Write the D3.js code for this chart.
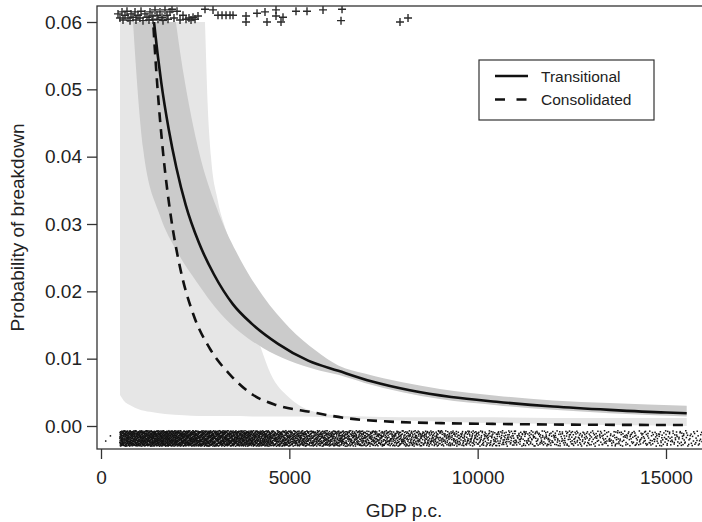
<!DOCTYPE html>
<html lang="en">
<head>
<meta charset="utf-8">
<title>Probability of breakdown by GDP p.c.</title>
<script src="https://d3js.org/d3.v7.min.js"></script>
<style>
  body { margin: 0; background: #fff; }
  svg { display: block; font-family: "Liberation Sans", Arial, sans-serif; }
  .axis text { font-size: 19px; fill: #222; }
  .axis line { stroke: #333; stroke-width: 1.3; }
  .axis path { display: none; }
</style>
</head>
<body>
<script>
// ---- data ----
// Transitional (solid) point estimate
const transGdp = [1200, 1415, 1600, 1800, 2000, 2250, 2600, 3000, 3500, 4000, 4700, 5500, 6300, 7200, 8200, 9300, 10500, 12000, 13500, 15000, 15550];
const transP   = [0.0730, 0.0596, 0.0510, 0.0440, 0.0384, 0.0328, 0.0272, 0.0225, 0.0181, 0.0152, 0.0122, 0.0097, 0.0082, 0.0066, 0.0053, 0.0043, 0.0036, 0.0029, 0.0024, 0.0020, 0.0019];

// Transitional confidence band (darker grey)
const transBandGdp = [500, 850, 1120, 1570, 2000, 2540, 3160, 3700, 4300, 5000, 5700, 6300, 7000, 8000, 9000, 10500, 12000, 13500, 15550];
const transLow     = [0.100, 0.0600, 0.0411, 0.0312, 0.0261, 0.0214, 0.0168, 0.0139, 0.0116, 0.0097, 0.0084, 0.0076, 0.0064, 0.0050, 0.0040, 0.0031, 0.0024, 0.0019, 0.0014];
const transHigh    = [0.400, 0.196, 0.126, 0.081, 0.0595, 0.0422, 0.0311, 0.0247, 0.0193, 0.0146, 0.0112, 0.0090, 0.0078, 0.0065, 0.0055, 0.0045, 0.0038, 0.0034, 0.0030];

// Consolidated (dashed) point estimate
const consGdp = [1300, 1390, 1500, 1650, 1850, 2100, 2450, 2900, 3430, 4040, 4660, 5550, 6600, 7500, 9270, 10600, 12500, 15550];
const consP   = [0.0693, 0.0596, 0.0502, 0.0405, 0.0313, 0.0235, 0.0166, 0.0114, 0.0076, 0.0046, 0.0031, 0.0021, 0.0011, 0.0007, 0.0004, 0.0003, 0.0002, 0.00015];

// Consolidated confidence band (light grey)
const consBandGdp = [505, 600, 800, 1000, 1300, 1700, 2200, 2600, 2760, 2830, 2920, 3100, 3350, 3700, 4000, 4250, 4500, 5000, 5500, 6200, 7000, 8000, 10000, 12000, 14000, 15550];
const consLow     = [0.0046, 0.0038, 0.0030, 0.0025, 0.0021, 0.0018, 0.0016, 0.0015, 0.0015, 0.0015, 0.0015, 0.0015, 0.0015, 0.0015, 0.0014, 0.0014, 0.0014, 0.0014, 0.0014, 0.0012, 0.0010, 0.0008, 0.0005, 0.0003, 0.0001, 0.0];
const consHigh    = [0.30, 0.30, 0.30, 0.30, 0.30, 0.25, 0.15, 0.085, 0.060, 0.048, 0.040, 0.0335, 0.0285, 0.0220, 0.0160, 0.0115, 0.0078, 0.0042, 0.0024, 0.0016, 0.0014, 0.0013, 0.0013, 0.0012, 0.0012, 0.0012];

// breakdown events, plotted as crosses near the top
const eventGdp = [451, 504, 558, 584, 637, 690, 717, 770, 797, 850, 903, 929, 982, 1035, 1062, 1115, 1168, 1221, 1274, 1301, 1354, 1381, 1434, 1487, 1513, 1566, 1620, 1646, 1699, 1752, 1779, 1832, 1885, 1938, 2018, 2098, 2177, 2257, 2336, 2390, 2443, 2496, 2575,
                  2761, 2974, 3106, 3213, 3319, 3425, 3505, 3850, 3850, 4142, 4354, 4407, 4646, 4646, 4832, 4779, 5177, 5469, 5894, 6399, 6372, 7938, 8151];
const eventP   = [0.0612, 0.0606, 0.0615, 0.0603, 0.0610, 0.0616, 0.0606, 0.0602, 0.0612, 0.0607, 0.0615, 0.0603, 0.0610, 0.0606, 0.0616, 0.0602, 0.0612, 0.0607, 0.0603, 0.0615, 0.0609, 0.0603, 0.0618, 0.0610, 0.0604, 0.0615, 0.0607, 0.0602, 0.0618, 0.0610, 0.0604, 0.0615, 0.0619, 0.0606, 0.0616, 0.0603, 0.0610, 0.0604, 0.0606, 0.0603, 0.0607, 0.0604, 0.0609,
                  0.0619, 0.0618, 0.0610, 0.0610, 0.0610, 0.0610, 0.0610, 0.0609, 0.0600, 0.0613, 0.0615, 0.0600, 0.0618, 0.0609, 0.0607, 0.0600, 0.0616, 0.0616, 0.0618, 0.0619, 0.0602, 0.0600, 0.0606];

// observations (rug at the bottom): count per 500 GDP bin
const rugBinStart = d3.range(0, 16000, 500);
const rugCounts   = [2, 260, 280, 280, 270, 260, 245, 230, 210, 185, 160, 145, 135, 120, 108, 98, 92, 84, 76, 70, 64, 60, 56, 52, 50, 48, 45, 45, 42, 42, 42, 32];
const rugBand = [-0.0007, -0.0030];

const yTicks = [0, 0.01, 0.02, 0.03, 0.04, 0.05, 0.06];
const xTicks = [0, 5000, 10000, 15000];
const legendLabels = ["Transitional", "Consolidated"];

// ---- layout ----
const W = 702, H = 522;
const box = {left: 97, top: 6, right: 711, bottom: 449};

const svg = d3.select("body").append("svg").attr("width", W).attr("height", H);

const x = d3.scaleLinear().domain([0, 15000]).range([101, 666]);
const y = d3.scaleLinear().domain([0, 0.06]).range([426, 22]);

svg.append("clipPath").attr("id", "clipTop")
  .append("rect")
  .attr("x", box.left).attr("y", y(0.06))
  .attr("width", box.right - box.left).attr("height", box.bottom - y(0.06));
svg.append("clipPath").attr("id", "clipBox")
  .append("rect")
  .attr("x", box.left).attr("y", box.top)
  .attr("width", box.right - box.left).attr("height", box.bottom - box.top);

const bands = svg.append("g").attr("clip-path", "url(#clipTop)");

const area = d3.area().curve(d3.curveMonotoneX).x(d => x(d[0])).y0(d => y(d[1])).y1(d => y(d[2]));
bands.append("path")
  .attr("d", area(d3.zip(consBandGdp, consLow, consHigh)))
  .attr("fill", "#e6e6e6");
bands.append("path")
  .attr("d", area(d3.zip(transBandGdp, transLow, transHigh)))
  .attr("fill", "#cbcbcb");

const line = d3.line().curve(d3.curveMonotoneX).x(d => x(d[0])).y(d => y(d[1]));
bands.append("path")
  .attr("d", line(d3.zip(consGdp, consP)))
  .attr("fill", "none").attr("stroke", "#111").attr("stroke-width", 2.6)
  .attr("stroke-dasharray", "10,7");
bands.append("path")
  .attr("d", line(d3.zip(transGdp, transP)))
  .attr("fill", "none").attr("stroke", "#111").attr("stroke-width", 2.6);

// rug: points spread inside each bin with a Halton layout (jitter only)
function halton(i, base) {
  let f = 1, r = 0;
  while (i > 0) { f /= base; r += f * (i % base); i = Math.floor(i / base); }
  return r;
}
const rug = [];
let k = 1;
rugBinStart.forEach((s, b) => {
  for (let i = 0; i < rugCounts[b]; i++, k++) {
    rug.push([s + halton(k, 2) * 500, rugBand[0] + halton(k, 3) * (rugBand[1] - rugBand[0])]);
  }
});
svg.append("g").attr("clip-path", "url(#clipBox)")
  .selectAll("rect").data(rug).join("rect")
  .attr("x", d => x(d[0]) - 0.75).attr("y", d => y(d[1]) - 0.75)
  .attr("width", 1.5).attr("height", 1.5)
  .attr("fill", "#141414");

// breakdown events
svg.append("g").attr("clip-path", "url(#clipBox)")
  .selectAll("path").data(d3.zip(eventGdp, eventP)).join("path")
  .attr("transform", d => `translate(${x(d[0])},${y(d[1])})`)
  .attr("d", "M-4,0H4M0,-4V4")
  .attr("stroke", "#2a2a2a").attr("stroke-width", 1.4);

// frame
svg.append("rect")
  .attr("x", box.left).attr("y", box.top)
  .attr("width", box.right - box.left).attr("height", box.bottom - box.top)
  .attr("fill", "none").attr("stroke", "#333").attr("stroke-width", 1.3);

// axes
svg.append("g").attr("class", "axis")
  .attr("transform", `translate(${box.left},0)`)
  .call(d3.axisLeft(y).tickValues(yTicks).tickFormat(d3.format(".2f")).tickSize(10).tickPadding(5));
svg.append("g").attr("class", "axis")
  .attr("transform", `translate(0,${box.bottom})`)
  .call(d3.axisBottom(x).tickValues(xTicks).tickFormat(d3.format("d")).tickSize(10).tickPadding(12));

svg.append("text")
  .attr("x", (box.left + box.right) / 2).attr("y", 517)
  .attr("text-anchor", "middle").attr("font-size", 19).attr("fill", "#222")
  .text("GDP p.c.");
svg.append("text")
  .attr("transform", `translate(24,${(box.top + box.bottom) / 2}) rotate(-90)`)
  .attr("text-anchor", "middle").attr("font-size", 19).attr("fill", "#222")
  .text("Probability of breakdown");

// legend
const lg = svg.append("g").attr("transform", "translate(479,60)");
lg.append("rect").attr("width", 175).attr("height", 60)
  .attr("fill", "#fff").attr("stroke", "#333").attr("stroke-width", 1.2);
legendLabels.forEach((t, i) => {
  const yy = 16 + i * 23.5;
  lg.append("line").attr("x1", 16).attr("x2", 49).attr("y1", yy).attr("y2", yy)
    .attr("stroke", "#111").attr("stroke-width", 2.6)
    .attr("stroke-dasharray", i === 1 ? "10,11.5" : null);
  lg.append("text").attr("x", 62).attr("y", yy + 5.5)
    .attr("font-size", 15.5).attr("fill", "#222").text(t);
});
</script>
</body>
</html>
